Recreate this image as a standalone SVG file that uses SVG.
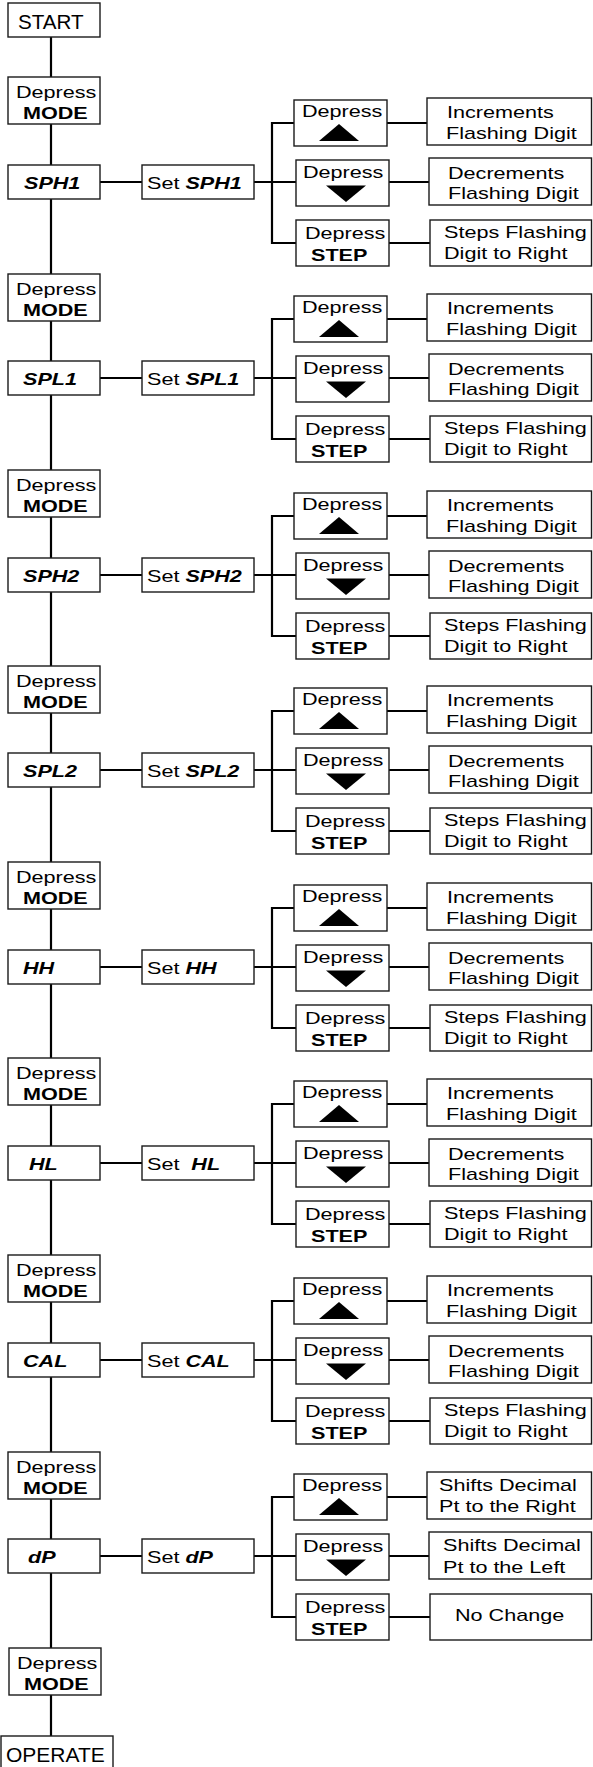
<svg xmlns="http://www.w3.org/2000/svg" xmlns:xlink="http://www.w3.org/1999/xlink" width="593" height="1767" viewBox="0 0 593 1767">
<style>
.b{fill:#fff;stroke:#1a1a1a;stroke-width:1.4}
.c{fill:none;stroke:#000;stroke-width:2.2}
.t{font-family:"Liberation Sans",Arial,sans-serif;font-size:17px;fill:#000}
.L{font-size:20px}
.bd{font-weight:bold}
.bi{font-weight:bold;font-style:italic}
.tri{fill:#000}
</style>
<defs>
<path id="up" class="tri" d="M0,-8.5 L20,8.5 L-20,8.5 Z"/>
<path id="dn" class="tri" d="M-20,-8.25 L20,-8.25 L0,8.25 Z"/>
</defs>
<g id="connectors">
<path class="c" d="M51 37V77M51 124V165M51 199V274M51 321V361M51 395V470M51 517V558M51 592V666M51 713V753M51 787V862M51 909V950M51 984V1058M51 1105V1146M51 1180V1255M51 1302V1343M51 1377V1452M51 1499V1539M51 1573V1648M51 1695V1736"/>
<path class="c" d="M100 182H142M254 182H296M294 123H272V243H296M387 123H427M389 182H429M389 243H430"/>
<path class="c" d="M100 378H142M254 378H296M294 319H272V439H296M387 319H427M389 378H429M389 439H430"/>
<path class="c" d="M100 575H142M254 575H296M294 516H272V636H296M387 516H427M389 575H429M389 636H430"/>
<path class="c" d="M100 770H142M254 770H296M294 711H272V831H296M387 711H427M389 770H429M389 831H430"/>
<path class="c" d="M100 967H142M254 967H296M294 908H272V1028H296M387 908H427M389 967H429M389 1028H430"/>
<path class="c" d="M100 1163H142M254 1163H296M294 1104H272V1224H296M387 1104H427M389 1163H429M389 1224H430"/>
<path class="c" d="M100 1360H142M254 1360H296M294 1301H272V1421H296M387 1301H427M389 1360H429M389 1421H430"/>
<path class="c" d="M100 1556H142M254 1556H296M294 1497H272V1617H296M387 1497H427M389 1556H429M389 1617H430"/>
</g>

<g id="start"><rect class="b" x="8" y="3" width="92" height="34"/><text class="t L" transform="translate(18 29) scale(1.03 1)">START</text></g>

<g id="mode1"><rect class="b" x="8" y="77" width="92" height="47"/><text class="t" transform="translate(16 98) scale(1.27 1)">Depress</text><text class="t bd" transform="translate(23 119) scale(1.27 1)">MODE</text></g>

<!-- Row 1 SPH1 R=165 -->
<g id="sph1"><rect class="b" x="8" y="165" width="92" height="34"/><text class="t bi" transform="translate(24 189) scale(1.27 1)">SPH1</text></g>
<g id="set-sph1"><rect class="b" x="142" y="165" width="112" height="34"/><text class="t" transform="translate(147 189) scale(1.27 1)">Set <tspan class="bi">SPH1</tspan></text></g>
<g id="sph1-up"><rect class="b" x="294" y="100" width="93" height="46"/><text class="t" transform="translate(302 117) scale(1.27 1)">Depress</text><use xlink:href="#up" x="339" y="132.5"/></g>
<g id="sph1-dn"><rect class="b" x="296" y="160" width="93" height="46"/><text class="t" transform="translate(303 178) scale(1.27 1)">Depress</text><use xlink:href="#dn" x="346" y="193.75"/></g>
<g id="sph1-step"><rect class="b" x="296" y="220" width="93" height="46"/><text class="t" transform="translate(305 239) scale(1.27 1)">Depress</text><text class="t bd" transform="translate(311 261) scale(1.27 1)">STEP</text></g>
<g id="sph1-inc"><rect class="b" x="427" y="98" width="164.5" height="47"/><text class="t" transform="translate(447 118) scale(1.27 1)">Increments</text><text class="t" transform="translate(446 139) scale(1.27 1)">Flashing Digit</text></g>
<g id="sph1-dec"><rect class="b" x="429" y="158" width="162.5" height="47"/><text class="t" transform="translate(448 179) scale(1.27 1)">Decrements</text><text class="t" transform="translate(448 199) scale(1.27 1)">Flashing Digit</text></g>
<g id="sph1-stp"><rect class="b" x="430" y="220" width="161.5" height="46"/><text class="t" transform="translate(444 238) scale(1.27 1)">Steps Flashing</text><text class="t" transform="translate(444 259) scale(1.27 1)">Digit to Right</text></g>

<g id="mode2"><rect class="b" x="8" y="274" width="92" height="47"/><text class="t" transform="translate(16 295) scale(1.27 1)">Depress</text><text class="t bd" transform="translate(23 316) scale(1.27 1)">MODE</text></g>

<!-- Row 2 SPL1 R=361 -->
<g id="spl1"><rect class="b" x="8" y="361" width="92" height="34"/><text class="t bi" transform="translate(23 385) scale(1.27 1)">SPL1</text></g>
<g id="set-spl1"><rect class="b" x="142" y="361" width="112" height="34"/><text class="t" transform="translate(147 385) scale(1.27 1)">Set <tspan class="bi">SPL1</tspan></text></g>
<g id="spl1-up"><rect class="b" x="294" y="296" width="93" height="46"/><text class="t" transform="translate(302 313) scale(1.27 1)">Depress</text><use xlink:href="#up" x="339" y="328.5"/></g>
<g id="spl1-dn"><rect class="b" x="296" y="356" width="93" height="46"/><text class="t" transform="translate(303 374) scale(1.27 1)">Depress</text><use xlink:href="#dn" x="346" y="389.75"/></g>
<g id="spl1-step"><rect class="b" x="296" y="416" width="93" height="46"/><text class="t" transform="translate(305 435) scale(1.27 1)">Depress</text><text class="t bd" transform="translate(311 457) scale(1.27 1)">STEP</text></g>
<g id="spl1-inc"><rect class="b" x="427" y="294" width="164.5" height="47"/><text class="t" transform="translate(447 314) scale(1.27 1)">Increments</text><text class="t" transform="translate(446 335) scale(1.27 1)">Flashing Digit</text></g>
<g id="spl1-dec"><rect class="b" x="429" y="354" width="162.5" height="47"/><text class="t" transform="translate(448 375) scale(1.27 1)">Decrements</text><text class="t" transform="translate(448 395) scale(1.27 1)">Flashing Digit</text></g>
<g id="spl1-stp"><rect class="b" x="430" y="416" width="161.5" height="46"/><text class="t" transform="translate(444 434) scale(1.27 1)">Steps Flashing</text><text class="t" transform="translate(444 455) scale(1.27 1)">Digit to Right</text></g>

<g id="mode3"><rect class="b" x="8" y="470" width="92" height="47"/><text class="t" transform="translate(16 491) scale(1.27 1)">Depress</text><text class="t bd" transform="translate(23 512) scale(1.27 1)">MODE</text></g>

<!-- Row 3 SPH2 R=558 -->
<g id="sph2"><rect class="b" x="8" y="558" width="92" height="34"/><text class="t bi" transform="translate(23 582) scale(1.27 1)">SPH2</text></g>
<g id="set-sph2"><rect class="b" x="142" y="558" width="112" height="34"/><text class="t" transform="translate(147 582) scale(1.27 1)">Set <tspan class="bi">SPH2</tspan></text></g>
<g id="sph2-up"><rect class="b" x="294" y="493" width="93" height="46"/><text class="t" transform="translate(302 510) scale(1.27 1)">Depress</text><use xlink:href="#up" x="339" y="525.5"/></g>
<g id="sph2-dn"><rect class="b" x="296" y="553" width="93" height="46"/><text class="t" transform="translate(303 571) scale(1.27 1)">Depress</text><use xlink:href="#dn" x="346" y="586.75"/></g>
<g id="sph2-step"><rect class="b" x="296" y="613" width="93" height="46"/><text class="t" transform="translate(305 632) scale(1.27 1)">Depress</text><text class="t bd" transform="translate(311 654) scale(1.27 1)">STEP</text></g>
<g id="sph2-inc"><rect class="b" x="427" y="491" width="164.5" height="47"/><text class="t" transform="translate(447 511) scale(1.27 1)">Increments</text><text class="t" transform="translate(446 532) scale(1.27 1)">Flashing Digit</text></g>
<g id="sph2-dec"><rect class="b" x="429" y="551" width="162.5" height="47"/><text class="t" transform="translate(448 572) scale(1.27 1)">Decrements</text><text class="t" transform="translate(448 592) scale(1.27 1)">Flashing Digit</text></g>
<g id="sph2-stp"><rect class="b" x="430" y="613" width="161.5" height="46"/><text class="t" transform="translate(444 631) scale(1.27 1)">Steps Flashing</text><text class="t" transform="translate(444 652) scale(1.27 1)">Digit to Right</text></g>

<g id="mode4"><rect class="b" x="8" y="666" width="92" height="47"/><text class="t" transform="translate(16 687) scale(1.27 1)">Depress</text><text class="t bd" transform="translate(23 708) scale(1.27 1)">MODE</text></g>

<!-- Row 4 SPL2 R=753 -->
<g id="spl2"><rect class="b" x="8" y="753" width="92" height="34"/><text class="t bi" transform="translate(23 777) scale(1.27 1)">SPL2</text></g>
<g id="set-spl2"><rect class="b" x="142" y="753" width="112" height="34"/><text class="t" transform="translate(147 777) scale(1.27 1)">Set <tspan class="bi">SPL2</tspan></text></g>
<g id="spl2-up"><rect class="b" x="294" y="688" width="93" height="46"/><text class="t" transform="translate(302 705) scale(1.27 1)">Depress</text><use xlink:href="#up" x="339" y="720.5"/></g>
<g id="spl2-dn"><rect class="b" x="296" y="748" width="93" height="46"/><text class="t" transform="translate(303 766) scale(1.27 1)">Depress</text><use xlink:href="#dn" x="346" y="781.75"/></g>
<g id="spl2-step"><rect class="b" x="296" y="808" width="93" height="46"/><text class="t" transform="translate(305 827) scale(1.27 1)">Depress</text><text class="t bd" transform="translate(311 849) scale(1.27 1)">STEP</text></g>
<g id="spl2-inc"><rect class="b" x="427" y="686" width="164.5" height="47"/><text class="t" transform="translate(447 706) scale(1.27 1)">Increments</text><text class="t" transform="translate(446 727) scale(1.27 1)">Flashing Digit</text></g>
<g id="spl2-dec"><rect class="b" x="429" y="746" width="162.5" height="47"/><text class="t" transform="translate(448 767) scale(1.27 1)">Decrements</text><text class="t" transform="translate(448 787) scale(1.27 1)">Flashing Digit</text></g>
<g id="spl2-stp"><rect class="b" x="430" y="808" width="161.5" height="46"/><text class="t" transform="translate(444 826) scale(1.27 1)">Steps Flashing</text><text class="t" transform="translate(444 847) scale(1.27 1)">Digit to Right</text></g>

<g id="mode5"><rect class="b" x="8" y="862" width="92" height="47"/><text class="t" transform="translate(16 883) scale(1.27 1)">Depress</text><text class="t bd" transform="translate(23 904) scale(1.27 1)">MODE</text></g>

<!-- Row 5 HH R=950 -->
<g id="hh"><rect class="b" x="8" y="950" width="92" height="34"/><text class="t bi" transform="translate(23 974) scale(1.27 1)">HH</text></g>
<g id="set-hh"><rect class="b" x="142" y="950" width="112" height="34"/><text class="t" transform="translate(147 974) scale(1.27 1)">Set <tspan class="bi">HH</tspan></text></g>
<g id="hh-up"><rect class="b" x="294" y="885" width="93" height="46"/><text class="t" transform="translate(302 902) scale(1.27 1)">Depress</text><use xlink:href="#up" x="339" y="917.5"/></g>
<g id="hh-dn"><rect class="b" x="296" y="945" width="93" height="46"/><text class="t" transform="translate(303 963) scale(1.27 1)">Depress</text><use xlink:href="#dn" x="346" y="978.75"/></g>
<g id="hh-step"><rect class="b" x="296" y="1005" width="93" height="46"/><text class="t" transform="translate(305 1024) scale(1.27 1)">Depress</text><text class="t bd" transform="translate(311 1046) scale(1.27 1)">STEP</text></g>
<g id="hh-inc"><rect class="b" x="427" y="883" width="164.5" height="47"/><text class="t" transform="translate(447 903) scale(1.27 1)">Increments</text><text class="t" transform="translate(446 924) scale(1.27 1)">Flashing Digit</text></g>
<g id="hh-dec"><rect class="b" x="429" y="943" width="162.5" height="47"/><text class="t" transform="translate(448 964) scale(1.27 1)">Decrements</text><text class="t" transform="translate(448 984) scale(1.27 1)">Flashing Digit</text></g>
<g id="hh-stp"><rect class="b" x="430" y="1005" width="161.5" height="46"/><text class="t" transform="translate(444 1023) scale(1.27 1)">Steps Flashing</text><text class="t" transform="translate(444 1044) scale(1.27 1)">Digit to Right</text></g>

<g id="mode6"><rect class="b" x="8" y="1058" width="92" height="47"/><text class="t" transform="translate(16 1079) scale(1.27 1)">Depress</text><text class="t bd" transform="translate(23 1100) scale(1.27 1)">MODE</text></g>

<!-- Row 6 HL R=1146 -->
<g id="hl"><rect class="b" x="8" y="1146" width="92" height="34"/><text class="t bi" transform="translate(29 1170) scale(1.27 1)">HL</text></g>
<g id="set-hl"><rect class="b" x="142" y="1146" width="112" height="34"/><text class="t" transform="translate(147 1170) scale(1.27 1)">Set <tspan class="bi" dx="4.7">HL</tspan></text></g>
<g id="hl-up"><rect class="b" x="294" y="1081" width="93" height="46"/><text class="t" transform="translate(302 1098) scale(1.27 1)">Depress</text><use xlink:href="#up" x="339" y="1113.5"/></g>
<g id="hl-dn"><rect class="b" x="296" y="1141" width="93" height="46"/><text class="t" transform="translate(303 1159) scale(1.27 1)">Depress</text><use xlink:href="#dn" x="346" y="1174.75"/></g>
<g id="hl-step"><rect class="b" x="296" y="1201" width="93" height="46"/><text class="t" transform="translate(305 1220) scale(1.27 1)">Depress</text><text class="t bd" transform="translate(311 1242) scale(1.27 1)">STEP</text></g>
<g id="hl-inc"><rect class="b" x="427" y="1079" width="164.5" height="47"/><text class="t" transform="translate(447 1099) scale(1.27 1)">Increments</text><text class="t" transform="translate(446 1120) scale(1.27 1)">Flashing Digit</text></g>
<g id="hl-dec"><rect class="b" x="429" y="1139" width="162.5" height="47"/><text class="t" transform="translate(448 1160) scale(1.27 1)">Decrements</text><text class="t" transform="translate(448 1180) scale(1.27 1)">Flashing Digit</text></g>
<g id="hl-stp"><rect class="b" x="430" y="1201" width="161.5" height="46"/><text class="t" transform="translate(444 1219) scale(1.27 1)">Steps Flashing</text><text class="t" transform="translate(444 1240) scale(1.27 1)">Digit to Right</text></g>

<g id="mode7"><rect class="b" x="8" y="1255" width="92" height="47"/><text class="t" transform="translate(16 1276) scale(1.27 1)">Depress</text><text class="t bd" transform="translate(23 1297) scale(1.27 1)">MODE</text></g>

<!-- Row 7 CAL R=1343 -->
<g id="cal"><rect class="b" x="8" y="1343" width="92" height="34"/><text class="t bi" transform="translate(23 1367) scale(1.27 1)">CAL</text></g>
<g id="set-cal"><rect class="b" x="142" y="1343" width="112" height="34"/><text class="t" transform="translate(147 1367) scale(1.27 1)">Set <tspan class="bi">CAL</tspan></text></g>
<g id="cal-up"><rect class="b" x="294" y="1278" width="93" height="46"/><text class="t" transform="translate(302 1295) scale(1.27 1)">Depress</text><use xlink:href="#up" x="339" y="1310.5"/></g>
<g id="cal-dn"><rect class="b" x="296" y="1338" width="93" height="46"/><text class="t" transform="translate(303 1356) scale(1.27 1)">Depress</text><use xlink:href="#dn" x="346" y="1371.75"/></g>
<g id="cal-step"><rect class="b" x="296" y="1398" width="93" height="46"/><text class="t" transform="translate(305 1417) scale(1.27 1)">Depress</text><text class="t bd" transform="translate(311 1439) scale(1.27 1)">STEP</text></g>
<g id="cal-inc"><rect class="b" x="427" y="1276" width="164.5" height="47"/><text class="t" transform="translate(447 1296) scale(1.27 1)">Increments</text><text class="t" transform="translate(446 1317) scale(1.27 1)">Flashing Digit</text></g>
<g id="cal-dec"><rect class="b" x="429" y="1336" width="162.5" height="47"/><text class="t" transform="translate(448 1357) scale(1.27 1)">Decrements</text><text class="t" transform="translate(448 1377) scale(1.27 1)">Flashing Digit</text></g>
<g id="cal-stp"><rect class="b" x="430" y="1398" width="161.5" height="46"/><text class="t" transform="translate(444 1416) scale(1.27 1)">Steps Flashing</text><text class="t" transform="translate(444 1437) scale(1.27 1)">Digit to Right</text></g>

<g id="mode8"><rect class="b" x="8" y="1452" width="92" height="47"/><text class="t" transform="translate(16 1473) scale(1.27 1)">Depress</text><text class="t bd" transform="translate(23 1494) scale(1.27 1)">MODE</text></g>

<!-- Row 8 dP R=1539 -->
<g id="dp"><rect class="b" x="8" y="1539" width="92" height="34"/><text class="t bi" transform="translate(28 1563) scale(1.27 1)">dP</text></g>
<g id="set-dp"><rect class="b" x="142" y="1539" width="112" height="34"/><text class="t" transform="translate(147 1563) scale(1.27 1)">Set <tspan class="bi">dP</tspan></text></g>
<g id="dp-up"><rect class="b" x="294" y="1474" width="93" height="46"/><text class="t" transform="translate(302 1491) scale(1.27 1)">Depress</text><use xlink:href="#up" x="339" y="1506.5"/></g>
<g id="dp-dn"><rect class="b" x="296" y="1534" width="93" height="46"/><text class="t" transform="translate(303 1552) scale(1.27 1)">Depress</text><use xlink:href="#dn" x="346" y="1567.75"/></g>
<g id="dp-step"><rect class="b" x="296" y="1594" width="93" height="46"/><text class="t" transform="translate(305 1613) scale(1.27 1)">Depress</text><text class="t bd" transform="translate(311 1635) scale(1.27 1)">STEP</text></g>
<g id="dp-right"><rect class="b" x="427" y="1472" width="164.5" height="47"/><text class="t" transform="translate(439 1491) scale(1.27 1)">Shifts Decimal</text><text class="t" transform="translate(439 1512) scale(1.27 1)">Pt to the Right</text></g>
<g id="dp-left"><rect class="b" x="429" y="1532" width="162.5" height="47"/><text class="t" transform="translate(443 1551) scale(1.27 1)">Shifts Decimal</text><text class="t" transform="translate(443 1573) scale(1.27 1)">Pt to the Left</text></g>
<g id="dp-nochange"><rect class="b" x="430" y="1594" width="161.5" height="46"/><text class="t" transform="translate(455 1621) scale(1.27 1)">No Change</text></g>

<g id="mode9"><rect class="b" x="9" y="1648" width="92" height="47"/><text class="t" transform="translate(17 1669) scale(1.27 1)">Depress</text><text class="t bd" transform="translate(24 1690) scale(1.27 1)">MODE</text></g>

<g id="operate"><rect class="b" x="1" y="1736" width="112" height="40"/><text class="t L" transform="translate(6 1762) scale(1.05 1)">OPERATE</text></g>
</svg>
